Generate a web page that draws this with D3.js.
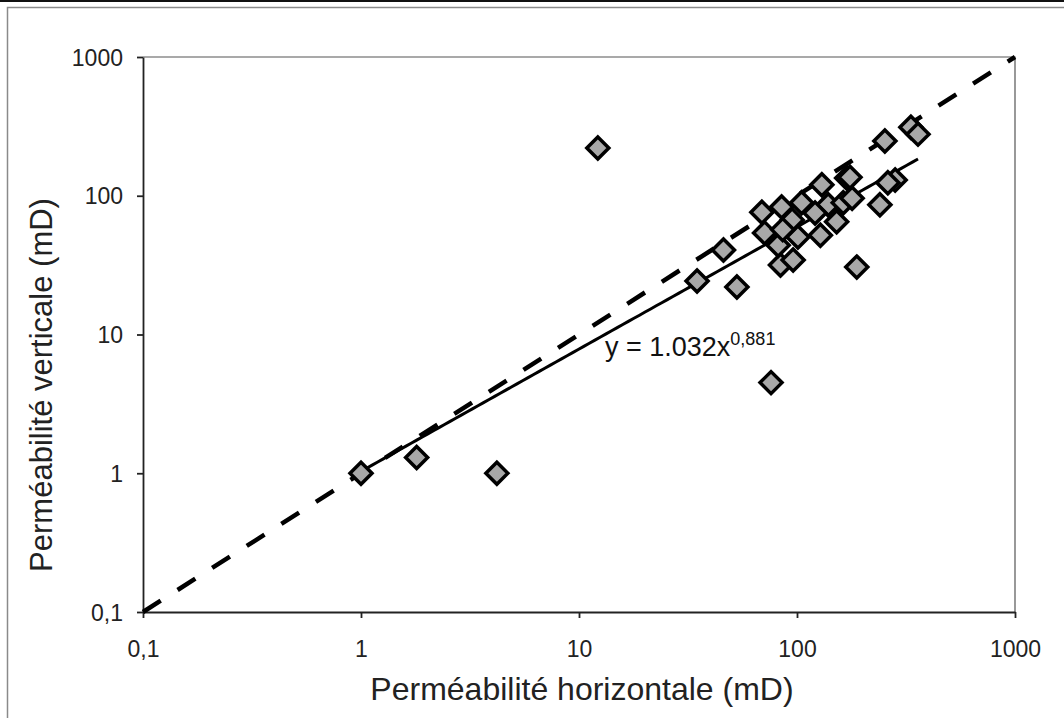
<!DOCTYPE html>
<html><head><meta charset="utf-8">
<script src="https://cdn.jsdelivr.net/npm/d3@7/dist/d3.min.js"></script>
<style>body{margin:0;background:#fff}svg{display:block;font-family:"Liberation Sans",Arial,sans-serif}</style>
</head><body><svg id="c" width="1064" height="718"></svg>
<script>
const xTicks = [0.1, 1, 10, 100, 1000];
const yTicks = [0.1, 1, 10, 100, 1000];
const tickLabels = ["0,1", "1", "10", "100", "1000"];
const kh = [1.0, 1.8, 4.2, 12.2, 76, 34.8, 53, 46, 188, 84, 96, 71, 82, 101, 128, 69, 85, 105, 130, 169, 95, 139, 163, 86, 152, 253, 333, 359, 282, 175, 179, 240, 261, 121];
const kv = [1.0, 1.3, 1.0, 221, 4.5, 24.3, 22, 40.6, 30.6, 31.7, 34.4, 54, 44, 50.5, 52, 76, 83, 89, 120, 134, 67, 86, 89, 57, 65, 248, 312, 278, 130, 136, 96, 86, 124, 75];
const fitA = 1.032, fitB = 0.881;
const fitRange = [1, 359];
const xTitle = "Perméabilité horizontale (mD)";
const yTitle = "Perméabilité verticale (mD)";

const svg = d3.select("#c");
const L = 143, R = 1015, T = 57, B = 612;
const x = d3.scaleLog().domain([0.1, 1000]).range([L, R]);
const y = d3.scaleLog().domain([0.1, 1000]).range([B, T]);

// outer frame
svg.append("rect").attr("x", 0).attr("y", 0).attr("width", 1064).attr("height", 2).attr("fill", "#111");
svg.append("path").attr("d", "M7.5,718 V7.5 H1064").attr("fill", "none").attr("stroke", "#8a8a8a").attr("stroke-width", 1.5);

// plot border (top/right)
svg.append("path").attr("d", `M${L},${T}H${R}V${B}`).attr("fill", "none").attr("stroke", "#555").attr("stroke-width", 1.2);

// axes
const xa = d3.axisBottom(x).tickValues(xTicks).tickFormat((d, i) => tickLabels[i]).tickSize(6).tickSizeOuter(0);
const ya = d3.axisLeft(y).tickValues(yTicks).tickFormat((d, i) => tickLabels[i]).tickSize(6).tickSizeOuter(0);
const gx = svg.append("g").attr("transform", `translate(0,${B})`).call(xa);
const gy = svg.append("g").attr("transform", `translate(${L},0)`).call(ya);
[gx, gy].forEach(g => {
  g.attr("font-size", null).attr("font-family", null);
  g.select(".domain").attr("stroke", "#222").attr("stroke-width", 1.8);
  g.selectAll(".tick line").attr("stroke", "#222").attr("stroke-width", 1.8);
  g.selectAll(".tick text").attr("fill", "#222").style("font-size", "23px");
});
gx.selectAll(".tick text").attr("dy", "0").attr("y", 45);
gy.selectAll(".tick text").attr("x", -20).attr("dy", "0.35em");

// 1:1 dashed line
svg.append("line")
  .attr("x1", x(0.1)).attr("y1", y(0.1)).attr("x2", x(1000)).attr("y2", y(1000))
  .attr("stroke", "#000").attr("stroke-width", 4.5).attr("stroke-dasharray", "21,20");

// power fit
const fitPts = d3.range(0, 101).map(i => {
  const lx = Math.log10(fitRange[0]) + i / 100 * (Math.log10(fitRange[1]) - Math.log10(fitRange[0]));
  const xv = Math.pow(10, lx);
  return [xv, fitA * Math.pow(xv, fitB)];
});
svg.append("path").datum(fitPts)
  .attr("d", d3.line().x(d => x(d[0])).y(d => y(d[1])))
  .attr("fill", "none").attr("stroke", "#000").attr("stroke-width", 3);

// points
const data = kh.map((v, i) => ({ x: v, y: kv[i] }));
const r = 11;
svg.append("g").selectAll("path").data(data).join("path")
  .attr("transform", d => `translate(${x(d.x)},${y(d.y)})`)
  .attr("d", `M0,${-r}L${r},0L0,${r}L${-r},0Z`)
  .attr("fill", "#a8a8a8").attr("stroke", "#000").attr("stroke-width", 3.5).attr("stroke-linejoin", "miter");

// equation
const eq = svg.append("text").attr("x", 605).attr("y", 356).attr("fill", "#111")
  .style("font-size", "27px");
eq.append("tspan").text("y = 1.032x");
eq.append("tspan").attr("dy", -11).style("font-size", "18px").text("0,881");

// axis titles
svg.append("text").attr("x", 582).attr("y", 700).attr("text-anchor", "middle")
  .attr("fill", "#222").style("font-size", "32px").text(xTitle);
svg.append("text").attr("transform", `translate(52,385) rotate(-90)`).attr("text-anchor", "middle")
  .attr("fill", "#222").style("font-size", "31px").text(yTitle);
</script></body></html>
